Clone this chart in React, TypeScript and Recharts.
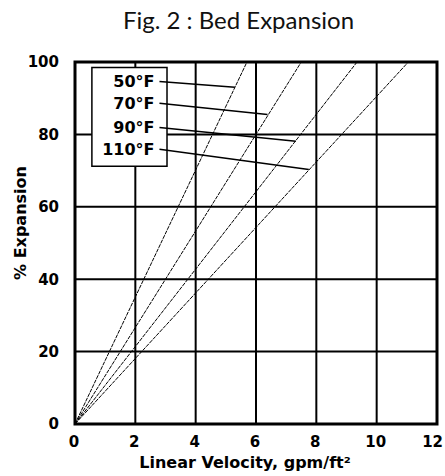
import React from 'react';
import {
  LineChart, Line, XAxis, YAxis, CartesianGrid, ReferenceArea, ReferenceLine, ReferenceDot,
} from 'recharts';

// Bed expansion vs linear velocity, one straight line per water temperature
const temperatures = ['50°F', '70°F', '90°F', '110°F'];
const velocityAtFullExpansion = [5.7, 7.5, 9.35, 11.05]; // gpm/ft² where each line reaches 100%
const expansionStart = [0, 100];

const xTicks = [0, 2, 4, 6, 8, 10, 12];
const yTicks = [0, 20, 40, 60, 80, 100];

// callout box and leader lines (label anchor -> point on its line)
const labelAnchorX = 2.8;
const labelAnchorY = [94.6, 88.6, 81.9, 75.9];
const leaderEnd = [
  { x: 5.3, y: 93.0 },
  { x: 6.38, y: 85.5 },
  { x: 7.32, y: 78.1 },
  { x: 7.75, y: 70.3 },
];

const series = temperatures.map((t, i) => ({
  name: t,
  data: [
    { v: 0, e: expansionStart[0] },
    { v: velocityAtFullExpansion[i], e: expansionStart[1] },
  ],
}));

const bold = "'DejaVu Sans', Verdana, sans-serif";

// last x tick ("12") sits right-aligned so it stays inside the page
const XTick = (props: any) => {
  const { x, y, payload } = props;
  const last = payload.value === xTicks[xTicks.length - 1];
  return (
    <text
      x={last ? x + 6 : x - 1}
      y={y}
      dy="0.71em"
      textAnchor={last ? 'end' : 'middle'}
      fill="#000"
      style={{ fontFamily: bold, fontWeight: 700, fontSize: 15 }}
    >
      {payload.value}
    </text>
  );
};

export default function App() {
  return (
    <div style={{ position: 'absolute', left: 0, top: 0, width: 445, height: 476, background: '#fff' }}>
      <div
        style={{
          position: 'absolute', left: 16, top: 5, width: 445, textAlign: 'center',
          fontFamily: "Lato, 'Open Sans', sans-serif", fontSize: 24, color: '#111',
        }}
      >
        Fig. 2 : Bed Expansion
      </div>
      <LineChart
        width={445}
        height={476}
        margin={{ top: 62, right: 8, bottom: 0, left: 0 }}
        style={{ position: 'absolute', left: 0, top: 0 }}
      >
        <CartesianGrid stroke="#000" strokeWidth={2} />
        <XAxis
          type="number"
          dataKey="v"
          domain={[0, 12]}
          ticks={xTicks}
          height={52}
          axisLine={false}
          tickLine={false}
          tickMargin={6}
          tick={<XTick />}
          label={{
            content: () => (
              <text
                x={245}
                y={468}
                textAnchor="middle"
                fill="#000"
                style={{ fontFamily: bold, fontWeight: 700, fontSize: 16 }}
              >
                Linear Velocity, gpm/ft²
              </text>
            ),
          }}
        />
        <YAxis
          type="number"
          dataKey="e"
          domain={[0, 100]}
          ticks={yTicks}
          width={75}
          axisLine={false}
          tickLine={false}
          tickMargin={10}
          tick={{ fill: '#000', fontFamily: bold, fontWeight: 700, fontSize: 15 }}
          label={{
            content: () => (
              <text
                x={26}
                y={223}
                transform="rotate(-90 26 223)"
                textAnchor="middle"
                fill="#000"
                style={{ fontFamily: bold, fontWeight: 700, fontSize: 16 }}
              >
                % Expansion
              </text>
            ),
          }}
        />
        <ReferenceArea x1={0} x2={12} y1={0} y2={100} fill="none" stroke="#000" strokeWidth={3} />
        {series.map((s) => (
          <Line
            key={s.name}
            data={s.data}
            dataKey="e"
            name={s.name}
            type="linear"
            stroke="#000"
            strokeWidth={1}
            strokeDasharray="4 1"
            dot={false}
            isAnimationActive={false}
          />
        ))}
        <ReferenceArea
          x1={0.56}
          x2={3.05}
          y1={71.2}
          y2={98.5}
          fill="#fff"
          fillOpacity={1}
          stroke="#000"
          strokeWidth={1.5}
        />
        {temperatures.map((t, i) => (
          <ReferenceLine
            key={'leader' + t}
            segment={[{ x: labelAnchorX, y: labelAnchorY[i] }, leaderEnd[i]]}
            stroke="#000"
            strokeWidth={1.5}
          />
        ))}
        {temperatures.map((t, i) => (
          <ReferenceDot
            key={'label' + t}
            x={labelAnchorX}
            y={labelAnchorY[i]}
            r={0}
            fill="none"
            stroke="none"
            label={{
              value: t,
              position: 'left',
              offset: 5,
              fill: '#000',
              style: { fontFamily: bold, fontWeight: 700, fontSize: 16 },
            }}
          />
        ))}
      </LineChart>
    </div>
  );
}
